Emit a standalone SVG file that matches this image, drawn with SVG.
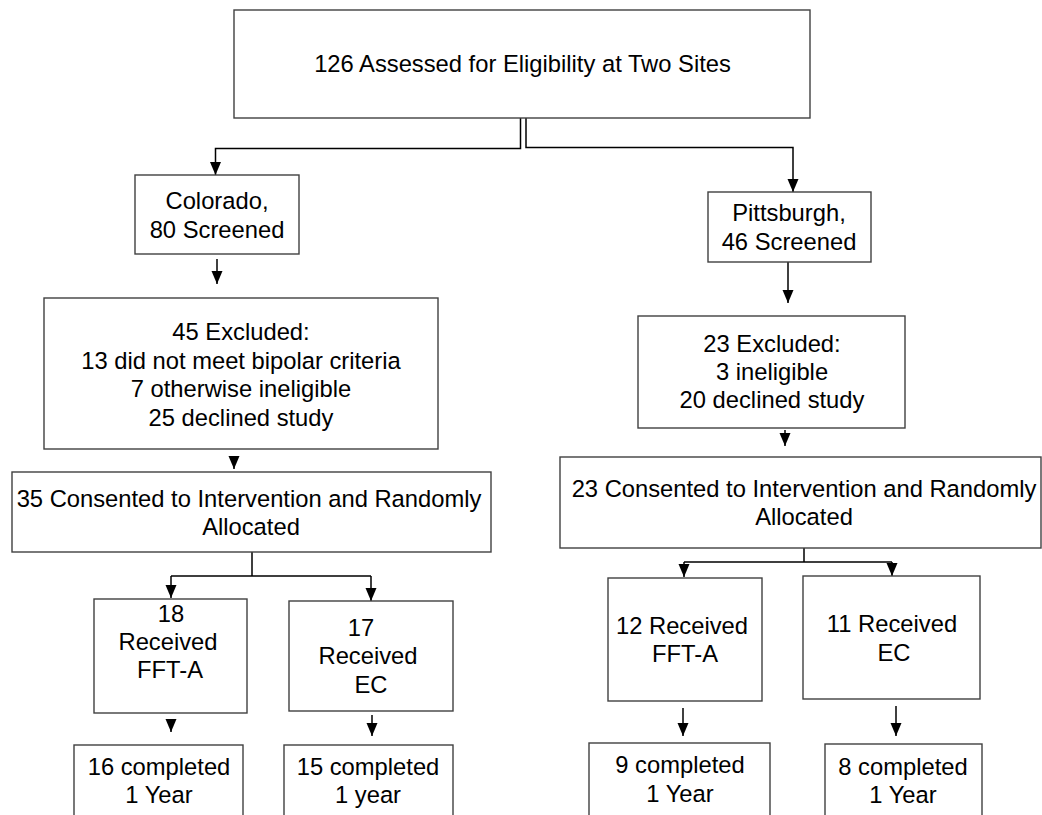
<svg xmlns="http://www.w3.org/2000/svg" width="1042" height="815" viewBox="0 0 1042 815">
<style>
.box{fill:#fff;stroke:#404040;stroke-width:1.4}
.t{font-family:"Liberation Sans",Arial,sans-serif;font-size:23.75px;fill:#000;text-anchor:middle}
.c{fill:none;stroke:#000;stroke-width:1.5}
.a{marker-end:url(#ah)}
</style>
<defs>
<marker id="ah" markerUnits="userSpaceOnUse" markerWidth="14" markerHeight="12" refX="13" refY="6" orient="auto">
<path d="M0,0.5 L13,6 L0,11.5 z" fill="#000"/>
</marker>
</defs>
<rect width="1042" height="815" fill="#fff"/>
<g id="connectors">
<path class="c a" d="M520.5,118 V148.5 H215.5 V175"/>
<path class="c a" d="M526,118 V147.5 H793 V192"/>
<path class="c a" d="M217,259 V284"/>
<path class="c a" d="M788,262 V303"/>
<path class="c a" d="M234,457 V469"/>
<path class="c a" d="M785,430 V446"/>
<path class="c" d="M252,552 V576 M171,576 H371"/>
<path class="c a" d="M171,576 V598"/>
<path class="c a" d="M371,576 V601"/>
<path class="c" d="M804,548 V562 M684,562 H892"/>
<path class="c a" d="M684,562 V577"/>
<path class="c a" d="M892,562 V576"/>
<path class="c a" d="M171,719 V732"/>
<path class="c a" d="M372,715 V736"/>
<path class="c a" d="M683,708 V736"/>
<path class="c a" d="M896,706 V736"/>
</g>
<g id="n-assessed">
<rect class="box" x="234" y="10" width="576" height="108"/>
<text class="t" x="522.5" y="72">126 Assessed for Eligibility at Two Sites</text>
</g>
<g id="n-colorado">
<rect class="box" x="135" y="175" width="164" height="79"/>
<text class="t" x="217" y="209">Colorado,</text>
<text class="t" x="217" y="238">80 Screened</text>
</g>
<g id="n-pittsburgh">
<rect class="box" x="708" y="192" width="163" height="70"/>
<text class="t" x="789" y="221">Pittsburgh,</text>
<text class="t" x="789" y="250">46 Screened</text>
</g>
<g id="n-co-excluded">
<rect class="box" x="44" y="298" width="394" height="151"/>
<text class="t" x="241" y="340">45 Excluded:</text>
<text class="t" x="241" y="369">13 did not meet bipolar criteria</text>
<text class="t" x="241" y="397">7 otherwise ineligible</text>
<text class="t" x="241" y="426">25 declined study</text>
</g>
<g id="n-pi-excluded">
<rect class="box" x="638" y="316" width="267" height="112"/>
<text class="t" x="772" y="352">23 Excluded:</text>
<text class="t" x="772" y="380">3 ineligible</text>
<text class="t" x="772" y="408">20 declined study</text>
</g>
<g id="n-co-consented">
<rect class="box" x="12" y="472" width="479" height="80"/>
<text class="t" x="249" y="507">35 Consented to Intervention and Randomly</text>
<text class="t" x="251" y="535">Allocated</text>
</g>
<g id="n-pi-consented">
<rect class="box" x="560" y="457" width="481" height="91"/>
<text class="t" x="804" y="497">23 Consented to Intervention and Randomly</text>
<text class="t" x="804" y="525">Allocated</text>
</g>
<g id="n-co-ffta">
<rect class="box" x="94" y="599" width="153" height="114"/>
<text class="t" x="171" y="622">18</text>
<text class="t" x="168" y="650">Received</text>
<text class="t" x="170" y="678">FFT-A</text>
</g>
<g id="n-co-ec">
<rect class="box" x="289" y="601" width="164" height="110"/>
<text class="t" x="361" y="636">17</text>
<text class="t" x="368" y="664">Received</text>
<text class="t" x="371" y="693">EC</text>
</g>
<g id="n-pi-ffta">
<rect class="box" x="608" y="578" width="154" height="123"/>
<text class="t" x="682" y="634">12 Received</text>
<text class="t" x="685" y="662">FFT-A</text>
</g>
<g id="n-pi-ec">
<rect class="box" x="803" y="576" width="177" height="123"/>
<text class="t" x="892" y="632">11 Received</text>
<text class="t" x="894" y="661">EC</text>
</g>
<g id="n-co-ffta-done">
<rect class="box" x="74" y="745" width="169" height="90"/>
<text class="t" x="159" y="775">16 completed</text>
<text class="t" x="159" y="803">1 Year</text>
</g>
<g id="n-co-ec-done">
<rect class="box" x="284" y="745" width="169" height="90"/>
<text class="t" x="368" y="775">15 completed</text>
<text class="t" x="368" y="803">1 year</text>
</g>
<g id="n-pi-ffta-done">
<rect class="box" x="589" y="743" width="181" height="90"/>
<text class="t" x="680" y="773">9 completed</text>
<text class="t" x="680" y="802">1 Year</text>
</g>
<g id="n-pi-ec-done">
<rect class="box" x="825" y="744" width="157" height="90"/>
<text class="t" x="903" y="775">8 completed</text>
<text class="t" x="903" y="803">1 Year</text>
</g>
</svg>
